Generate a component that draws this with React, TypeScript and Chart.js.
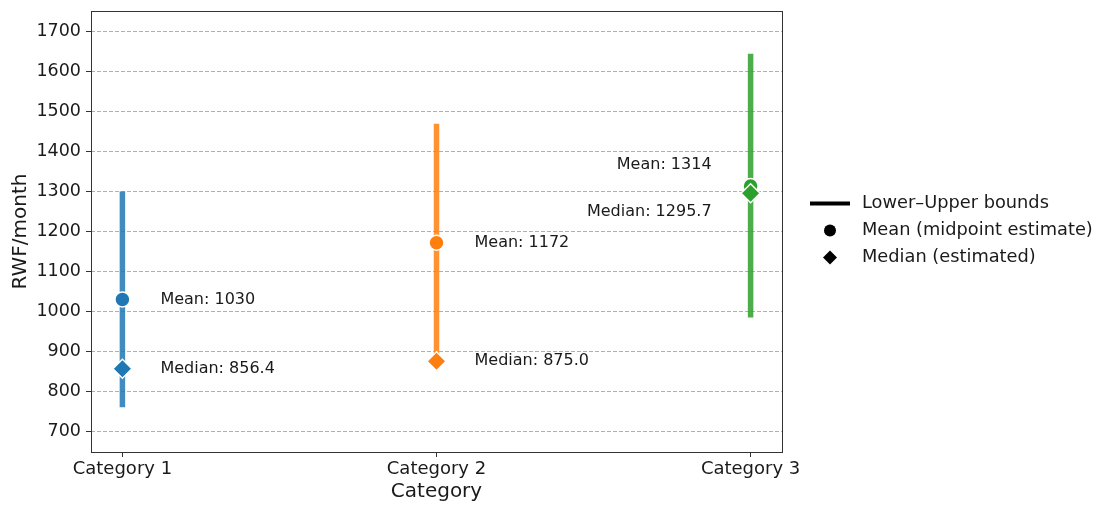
import React, { useEffect, useRef } from "react";
import { Chart, registerables } from "chart.js";

Chart.register(...registerables);

const categories = ["Category 1", "Category 2", "Category 3"];
const lowerBounds = [760, 875, 985];
const upperBounds = [1300, 1470, 1645];
const means = [1030, 1172, 1314];
const medians = [856.4, 875.0, 1295.7];
const yTicks = [700, 800, 900, 1000, 1100, 1200, 1300, 1400, 1500, 1600, 1700];
const legendLabels = ["Lower\u2013Upper bounds", "Mean (midpoint estimate)", "Median (estimated)"];
const yTitle = "RWF/month";
const xTitle = "Category";

const solidColors = ["#1f77b4", "#ff7f0e", "#2ca02c"];
const barColors = ["rgba(31,119,180,0.85)", "rgba(255,127,14,0.85)", "rgba(44,160,44,0.85)"];

const FONT = "'DejaVu Sans', 'Liberation Sans', sans-serif";

export default function App() {
  const ref = useRef<HTMLCanvasElement | null>(null);

  useEffect(() => {
    document.body.style.margin = "0";
    const canvas = ref.current;
    if (!canvas) return;

    const barDatasets = categories.map((_, i) => ({
      type: "line" as const,
      data: [
        { x: i, y: lowerBounds[i] },
        { x: i, y: upperBounds[i] },
      ],
      showLine: true,
      borderColor: barColors[i],
      borderWidth: 5.5,
      borderCapStyle: "butt" as const,
      pointRadius: 0,
      order: 2,
    }));

    const meanDataset = {
      type: "scatter" as const,
      data: means.map((m, i) => ({ x: i, y: m })),
      pointStyle: "circle" as const,
      pointRadius: 7.5,
      pointBackgroundColor: solidColors,
      pointBorderColor: "#ffffff",
      pointBorderWidth: 1.5,
      order: 1,
    };

    const medianDataset = {
      type: "scatter" as const,
      data: medians.map((m, i) => ({ x: i, y: m })),
      pointStyle: "rectRot" as const,
      pointRadius: 9.5,
      pointBackgroundColor: solidColors,
      pointBorderColor: "#ffffff",
      pointBorderWidth: 1.5,
      order: 0,
    };

    // label placement styles: [dx, dy] in pixels, alignment
    const meanLabelStyle = [
      { dx: 38, dy: 0, align: "left" },
      { dx: 38, dy: 0, align: "left" },
      { dx: -39, dy: -21, align: "right" },
    ];
    const medianLabelStyle = [
      { dx: 38, dy: 0, align: "left" },
      { dx: 38, dy: 0, align: "left" },
      { dx: -39, dy: 19, align: "right" },
    ];

    const annotationPlugin = {
      id: "annotations",
      afterDatasetsDraw(chart: any) {
        const { ctx, scales } = chart;
        const xs = scales.x;
        const ys = scales.y;
        ctx.save();
        ctx.font = `16px ${FONT}`;
        ctx.fillStyle = "#1a1a1a";
        ctx.textBaseline = "middle";
        categories.forEach((_, i) => {
          const px = xs.getPixelForValue(i);
          const ms = meanLabelStyle[i];
          ctx.textAlign = ms.align;
          ctx.fillText(`Mean: ${means[i].toFixed(0)}`, px + ms.dx, ys.getPixelForValue(means[i]) + ms.dy);
          const ds = medianLabelStyle[i];
          ctx.textAlign = ds.align;
          ctx.fillText(`Median: ${medians[i].toFixed(1)}`, px + ds.dx, ys.getPixelForValue(medians[i]) + ds.dy);
        });
        ctx.restore();
      },
      afterDraw(chart: any) {
        const { ctx, chartArea } = chart;
        ctx.save();
        // frame
        ctx.strokeStyle = "#333333";
        ctx.lineWidth = 1;
        ctx.setLineDash([]);
        ctx.strokeRect(
          Math.round(chartArea.left) + 0.5,
          Math.round(chartArea.top) + 0.5,
          Math.round(chartArea.right - chartArea.left),
          Math.round(chartArea.bottom - chartArea.top)
        );
        // legend
        const lx = chartArea.right + 28;
        const midY = (chartArea.top + chartArea.bottom) / 2 - 1;
        const rowH = 27;
        const rows = [midY - rowH, midY, midY + rowH];
        const markerX = lx + 20;
        const textX = lx + 52;
        ctx.fillStyle = "#000";
        ctx.strokeStyle = "#000";
        // line sample
        ctx.lineWidth = 4;
        ctx.beginPath();
        ctx.moveTo(lx, rows[0]);
        ctx.lineTo(lx + 40, rows[0]);
        ctx.stroke();
        // circle
        ctx.beginPath();
        ctx.arc(markerX, rows[1], 6, 0, Math.PI * 2);
        ctx.fill();
        // diamond
        const d = 7;
        ctx.beginPath();
        ctx.moveTo(markerX - d, rows[2]);
        ctx.lineTo(markerX, rows[2] - d);
        ctx.lineTo(markerX + d, rows[2]);
        ctx.lineTo(markerX, rows[2] + d);
        ctx.closePath();
        ctx.fill();
        ctx.font = `17.8px ${FONT}`;
        ctx.fillStyle = "#1a1a1a";
        ctx.textAlign = "left";
        ctx.textBaseline = "middle";
        legendLabels.forEach((t, i) => ctx.fillText(t, textX, rows[i]));
        ctx.restore();
      },
    };

    const chart = new Chart(canvas, {
      type: "scatter",
      data: { datasets: [...barDatasets, meanDataset, medianDataset] as any },
      options: {
        animation: false,
        responsive: true,
        maintainAspectRatio: false,
        layout: { padding: { left: 0, top: 6, right: 315, bottom: 0 } },
        plugins: { legend: { display: false }, tooltip: { enabled: false } },
        scales: {
          x: {
            type: "linear",
            min: -0.1,
            max: 2.1,
            afterBuildTicks: (scale: any) => {
              scale.ticks = categories.map((_, i) => ({ value: i }));
            },
            afterFit: (scale: any) => {
              scale.height = 53;
              scale.paddingLeft = 0;
              scale.paddingRight = 0;
            },
            ticks: {
              callback: (v: any) => categories[v as number] ?? "",
              font: { family: FONT, size: 18 },
              color: "#1a1a1a",
              padding: 2,
              maxRotation: 0,
              autoSkip: false,
            },
            grid: {
              drawOnChartArea: false,
              drawTicks: true,
              tickLength: 5,
              tickColor: "#333333",
              tickWidth: 1,
            },
            border: { display: false },
            title: {
              display: true,
              text: xTitle,
              font: { family: FONT, size: 20 },
              color: "#1a1a1a",
              padding: { top: 0, bottom: 1 },
            },
          },
          y: {
            type: "linear",
            min: 648,
            max: 1752,
            afterBuildTicks: (scale: any) => {
              scale.ticks = yTicks.map((v) => ({ value: v }));
            },
            afterFit: (scale: any) => {
              scale.width = 91;
              scale.paddingTop = 0;
              scale.paddingBottom = 0;
            },
            ticks: {
              callback: (v: any) => String(v),
              font: { family: FONT, size: 17.5 },
              color: "#1a1a1a",
              padding: 5,
            },
            grid: {
              color: "#b0b0b0",
              lineWidth: 1,
              drawTicks: true,
              tickLength: 5,
              tickColor: "#333333",
              tickWidth: 1,
              tickBorderDash: [],
            },
            border: { display: false, dash: [4, 2] },
            title: {
              display: true,
              text: yTitle,
              font: { family: FONT, size: 20 },
              color: "#1a1a1a",
              padding: { top: 9, bottom: 0 },
            },
          },
        },
      },
      plugins: [annotationPlugin],
    });

    return () => chart.destroy();
  }, []);

  return (
    <div style={{ width: "1097px", height: "505px", position: "relative" }}>
      <canvas ref={ref} />
    </div>
  );
}
